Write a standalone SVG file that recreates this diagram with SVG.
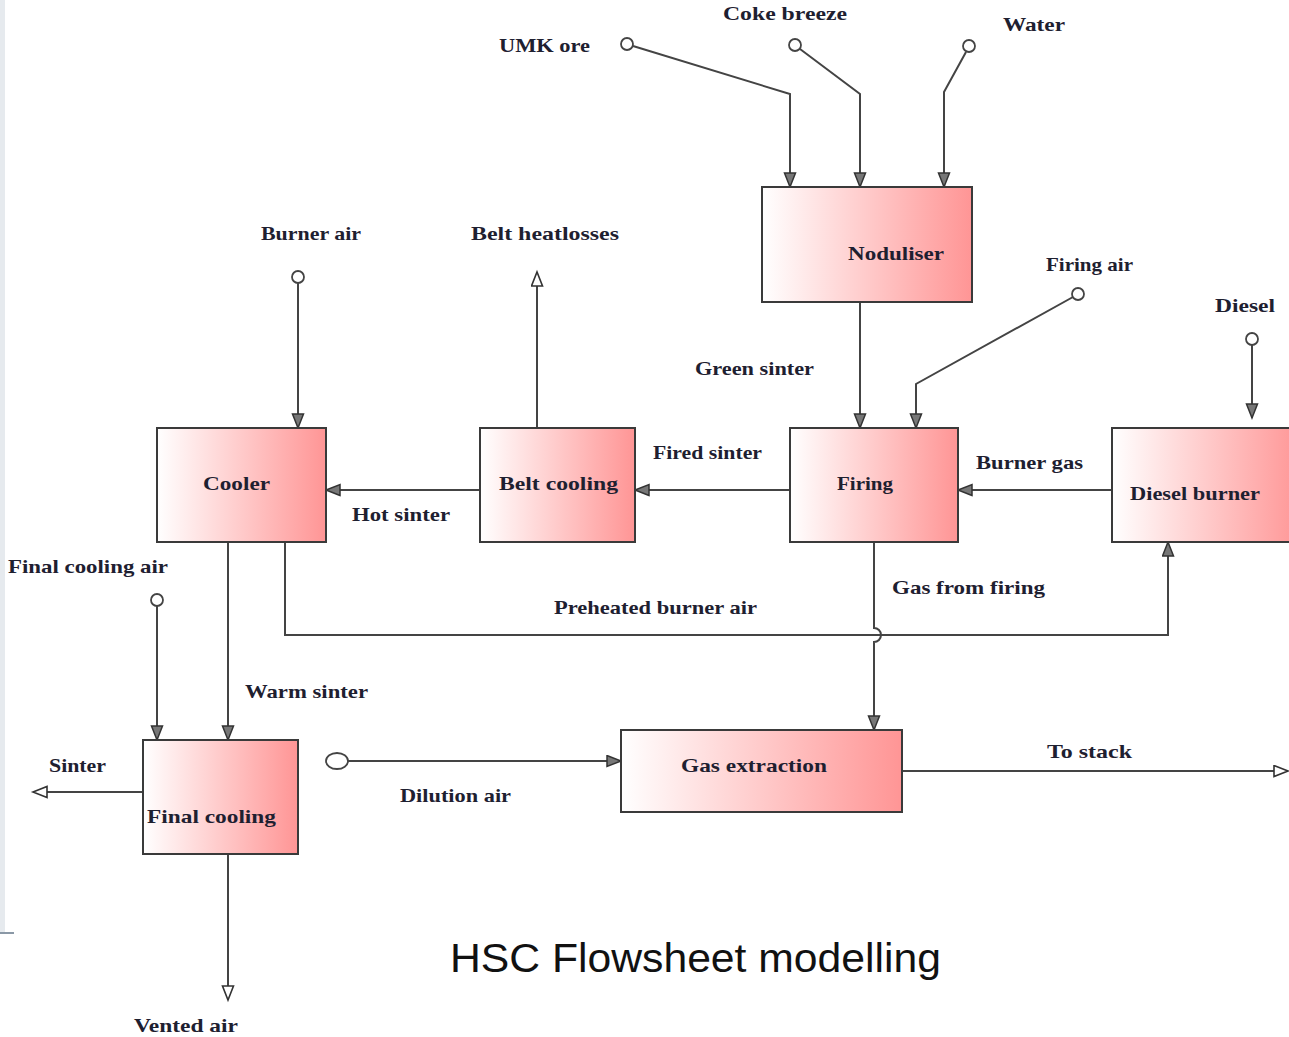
<svg xmlns="http://www.w3.org/2000/svg" width="1289" height="1037" viewBox="0 0 1289 1037">
<defs>
<linearGradient id="g" x1="0" y1="0" x2="1" y2="0">
<stop offset="0" stop-color="#ffffff"/>
<stop offset="1" stop-color="#ff9595"/>
</linearGradient>
<marker id="af" markerUnits="userSpaceOnUse" markerWidth="18" markerHeight="14" refX="15" refY="6.5" orient="auto">
<path d="M1,1 L15,6.5 L1,12 z" fill="#777" stroke="#333" stroke-width="1.5"/>
</marker>
<marker id="ao" markerUnits="userSpaceOnUse" markerWidth="18" markerHeight="14" refX="15" refY="6.5" orient="auto">
<path d="M1,1 L15,6.5 L1,12 z" fill="#fff" stroke="#333" stroke-width="1.6"/>
</marker>
</defs>
<style>
.box{fill:url(#g);stroke:#3a3a3a;stroke-width:2}
.ln{fill:none;stroke:#444;stroke-width:2}
.src{fill:#fff;stroke:#444;stroke-width:1.8}
.t{font-family:"Liberation Serif",serif;font-weight:bold;font-size:19px;fill:#1e2030}
.ti{font-family:"Liberation Sans",sans-serif;font-size:40px;fill:#111}
</style>
<rect x="0" y="0" width="5" height="933" fill="#e6eaee"/>
<line x1="0" y1="933" x2="14" y2="933" stroke="#8a98a6" stroke-width="2"/>

<g id="connectors">
<circle class="src" cx="627" cy="44" r="6"/>
<path class="ln" d="M633,46 L790,94 L790,187" marker-end="url(#af)"/>
<circle class="src" cx="795" cy="45" r="6"/>
<path class="ln" d="M800,49 L860,94 L860,187" marker-end="url(#af)"/>
<circle class="src" cx="969" cy="46" r="6"/>
<path class="ln" d="M966,52 L944,92 L944,187" marker-end="url(#af)"/>
<path class="ln" d="M860,292 L860,428" marker-end="url(#af)"/>
<circle class="src" cx="1078" cy="294" r="6"/>
<path class="ln" d="M1073,297 L916,384 L916,428" marker-end="url(#af)"/>
<circle class="src" cx="1252" cy="339" r="6"/>
<path class="ln" d="M1252,345 L1252,418" marker-end="url(#af)"/>
<path class="ln" d="M1112,490 L958,490" marker-end="url(#af)"/>
<path class="ln" d="M790,490 L635,490" marker-end="url(#af)"/>
<path class="ln" d="M480,490 L326,490" marker-end="url(#af)"/>
<path class="ln" d="M537,428 L537,272" marker-end="url(#ao)"/>
<circle class="src" cx="298" cy="277" r="6"/>
<path class="ln" d="M298,283 L298,428" marker-end="url(#af)"/>
<path class="ln" d="M228,542 L228,740" marker-end="url(#af)"/>
<circle class="src" cx="157" cy="600" r="6"/>
<path class="ln" d="M157,606 L157,740" marker-end="url(#af)"/>
<path class="ln" d="M285,542 L285,635 L1168,635 L1168,542" marker-end="url(#af)"/>
<path class="ln" d="M874,542 L874,628 A7,7 0 0 1 874,642 L874,730" marker-end="url(#af)"/>
<ellipse class="src" cx="337" cy="761" rx="11" ry="8"/>
<path class="ln" d="M348,761 L621,761" marker-end="url(#af)"/>
<path class="ln" d="M902,771 L1288,771" marker-end="url(#ao)"/>
<path class="ln" d="M143,792 L33,792" marker-end="url(#ao)"/>
<path class="ln" d="M228,845 L228,1000" marker-end="url(#ao)"/>
</g>

<g id="noduliser"><rect class="box" x="762" y="187" width="210" height="115"/><text class="t" x="848" y="260" textLength="96" lengthAdjust="spacingAndGlyphs">Noduliser</text></g>
<g id="cooler"><rect class="box" x="157" y="428" width="169" height="114"/><text class="t" x="203" y="490" textLength="67" lengthAdjust="spacingAndGlyphs">Cooler</text></g>
<g id="belt-cooling"><rect class="box" x="480" y="428" width="155" height="114"/><text class="t" x="499" y="490" textLength="119" lengthAdjust="spacingAndGlyphs">Belt cooling</text></g>
<g id="firing"><rect class="box" x="790" y="428" width="168" height="114"/><text class="t" x="837" y="490" textLength="56" lengthAdjust="spacingAndGlyphs">Firing</text></g>
<g id="diesel-burner"><rect class="box" x="1112" y="428" width="190" height="114"/><text class="t" x="1130" y="500" textLength="130" lengthAdjust="spacingAndGlyphs">Diesel burner</text></g>
<g id="final-cooling"><rect class="box" x="143" y="740" width="155" height="114"/><text class="t" x="147" y="823" textLength="129" lengthAdjust="spacingAndGlyphs">Final cooling</text></g>
<g id="gas-extraction"><rect class="box" x="621" y="730" width="281" height="82"/><text class="t" x="681" y="772" textLength="146" lengthAdjust="spacingAndGlyphs">Gas extraction</text></g>

<g id="labels">
<text class="t" x="499" y="52" textLength="91" lengthAdjust="spacingAndGlyphs">UMK ore</text>
<text class="t" x="723" y="20" textLength="124" lengthAdjust="spacingAndGlyphs">Coke breeze</text>
<text class="t" x="1003" y="31" textLength="62" lengthAdjust="spacingAndGlyphs">Water</text>
<text class="t" x="261" y="240" textLength="100" lengthAdjust="spacingAndGlyphs">Burner air</text>
<text class="t" x="471" y="240" textLength="148" lengthAdjust="spacingAndGlyphs">Belt heatlosses</text>
<text class="t" x="1046" y="271" textLength="87" lengthAdjust="spacingAndGlyphs">Firing air</text>
<text class="t" x="1215" y="312" textLength="60" lengthAdjust="spacingAndGlyphs">Diesel</text>
<text class="t" x="695" y="375" textLength="119" lengthAdjust="spacingAndGlyphs">Green sinter</text>
<text class="t" x="653" y="459" textLength="109" lengthAdjust="spacingAndGlyphs">Fired sinter</text>
<text class="t" x="976" y="469" textLength="107" lengthAdjust="spacingAndGlyphs">Burner gas</text>
<text class="t" x="352" y="521" textLength="98" lengthAdjust="spacingAndGlyphs">Hot sinter</text>
<text class="t" x="8" y="573" textLength="160" lengthAdjust="spacingAndGlyphs">Final cooling air</text>
<text class="t" x="892" y="594" textLength="153" lengthAdjust="spacingAndGlyphs">Gas from firing</text>
<text class="t" x="554" y="614" textLength="203" lengthAdjust="spacingAndGlyphs">Preheated burner air</text>
<text class="t" x="245" y="698" textLength="123" lengthAdjust="spacingAndGlyphs">Warm sinter</text>
<text class="t" x="49" y="772" textLength="57" lengthAdjust="spacingAndGlyphs">Sinter</text>
<text class="t" x="400" y="802" textLength="111" lengthAdjust="spacingAndGlyphs">Dilution air</text>
<text class="t" x="1047" y="758" textLength="85" lengthAdjust="spacingAndGlyphs">To stack</text>
<text class="t" x="134" y="1032" textLength="104" lengthAdjust="spacingAndGlyphs">Vented air</text>
<text class="ti" x="450" y="972" textLength="491" lengthAdjust="spacingAndGlyphs">HSC Flowsheet modelling</text>
</g>
</svg>
